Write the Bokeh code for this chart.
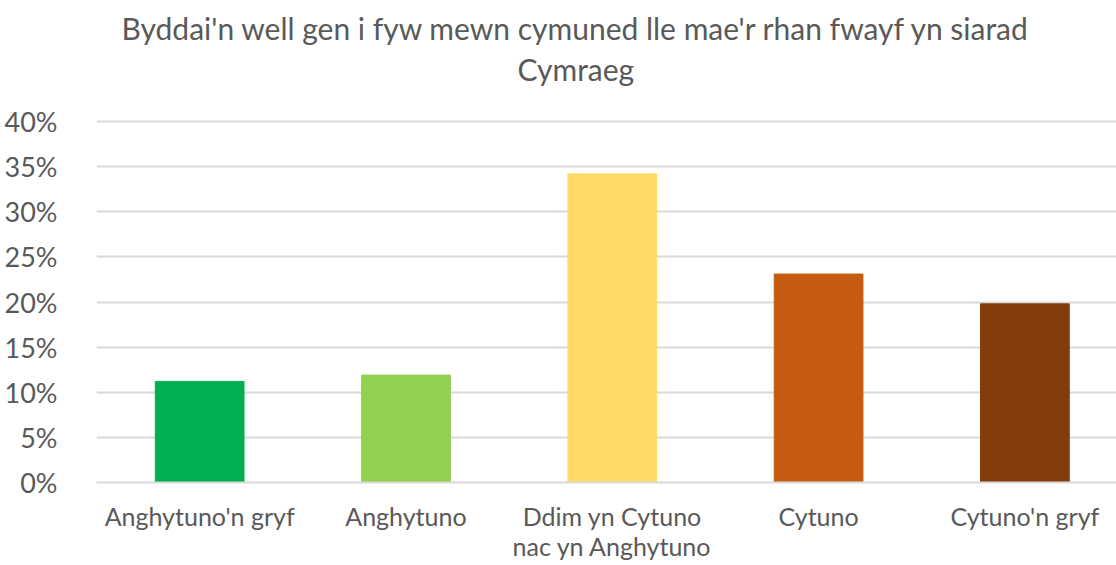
from bokeh.plotting import figure
from bokeh.models import ColumnDataSource, Range1d, FixedTicker, NumeralTickFormatter, Title
from bokeh.embed import file_html
from bokeh.resources import INLINE

title_lines = ["Byddai'n well gen i fyw mewn cymuned lle mae'r rhan fwayf yn siarad", "Cymraeg"]
categories = ["Anghytuno'n gryf", "Anghytuno", "Ddim yn Cytuno\nnac yn Anghytuno", "Cytuno", "Cytuno'n gryf"]
values = [0.112, 0.119, 0.342, 0.231, 0.198]
colors = ["#00B050", "#92D050", "#FFD966", "#C55A11", "#843C0C"]
y_ticks = [0, 0.05, 0.10, 0.15, 0.20, 0.25, 0.30, 0.35, 0.40]

FONT = "Lato"
TXT = "#595959"

xs = [i + 0.5 for i in range(len(categories))]
src = ColumnDataSource(dict(x=xs, top=values, color=colors))

# plot area extends a little above the 40% line (no outline), leaving room under the title
p = figure(width=1116, height=565, output_backend="svg", toolbar_location=None,
           x_range=Range1d(0, 4.944), y_range=Range1d(0, 0.4388),
           min_border_left=96, min_border_right=0, min_border_top=86, min_border_bottom=83)
p.outline_line_color = None

p.vbar(x="x", top="top", width=0.43, color="color", source=src)

p.yaxis.ticker = FixedTicker(ticks=y_ticks)
p.yaxis.formatter = NumeralTickFormatter(format="0%")
p.yaxis.axis_line_color = None
p.yaxis.major_tick_line_color = None
p.yaxis.minor_tick_line_color = None
p.yaxis.major_label_standoff = 33
p.yaxis.major_label_text_font = FONT
p.yaxis.major_label_text_font_size = "27px"
p.yaxis.major_label_text_color = TXT

xa = p.below[0]
xa.ticker = FixedTicker(ticks=xs)
xa.major_label_overrides = {x: c for x, c in zip(xs, categories)}
xa.axis_line_color = "#d9d9d9"
xa.axis_line_width = 2
xa.major_tick_line_color = None
xa.minor_tick_line_color = None
xa.major_label_standoff = 12
xa.major_label_text_font = FONT
xa.major_label_text_font_size = "25px"
xa.major_label_text_line_height = 1.0
xa.major_label_text_color = TXT

p.xgrid.grid_line_color = None
p.ygrid.ticker = FixedTicker(ticks=y_ticks)
p.ygrid.grid_line_color = "#d9d9d9"
p.ygrid.grid_line_width = 2

t2 = Title(text=title_lines[1], align="left", offset=421, text_font=FONT,
           text_font_size="30px", text_font_style="normal", text_color=TXT, standoff=0)
t1 = Title(text=title_lines[0], align="left", offset=25, text_font=FONT,
           text_font_size="30px", text_font_style="normal", text_color=TXT, standoff=6)
p.add_layout(t2, "above")
p.add_layout(t1, "above")

open("out.html", "w").write(file_html(p, INLINE))
